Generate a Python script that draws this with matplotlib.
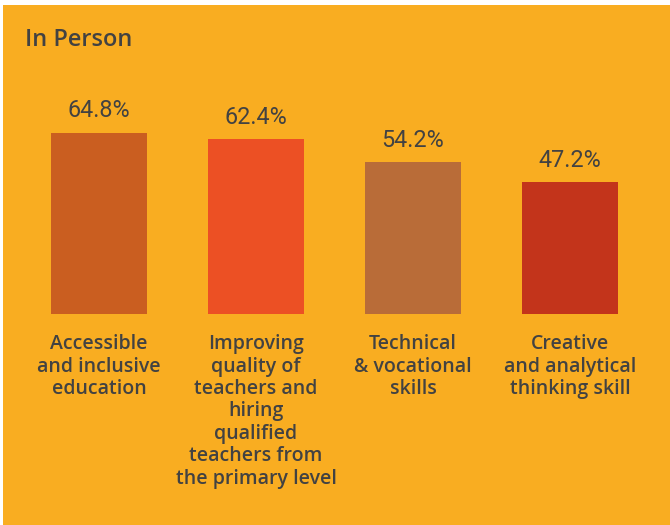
import matplotlib
matplotlib.use("Agg")
import matplotlib.pyplot as plt
from matplotlib.patches import Rectangle

title = "In Person"
categories = [
    "Accessible\nand inclusive\neducation",
    "Improving\nquality of\nteachers and\nhiring\nqualified\nteachers from\nthe primary level",
    "Technical\n& vocational\nskills",
    "Creative\nand analytical\nthinking skill",
]
values = [64.8, 62.4, 54.2, 47.2]
value_labels = ["64.8%", "62.4%", "54.2%", "47.2%"]
bar_colors = ["#CA5E20", "#EC5024", "#B96C38", "#C3341B"]

BG = "#F9AD21"
TXT = "#424242"
W, H = 670, 525

fig = plt.figure(figsize=(6.7, 5.25), dpi=100, facecolor="white")
fig.patches.append(Rectangle((3 / W, 0), 667 / W, 520 / H, transform=fig.transFigure,
                             facecolor=BG, edgecolor="none", zorder=-10))

ax = fig.add_axes([20.5 / W, 211 / H, 628 / W, 280 / H])
ax.set_facecolor("none")
ax.set_zorder(5)
x = list(range(len(values)))
ax.bar(x, values, width=96 / 157, color=bar_colors, zorder=2)
ax.set_xlim(-0.5, 3.5)
ax.set_ylim(0, 100)
ax.axis("off")

for i, (v, lab) in enumerate(zip(values, value_labels)):
    ax.annotate(lab, (i, v), xytext=(0, 11), textcoords="offset points",
                ha="center", va="baseline", fontsize=16.8, color=TXT,
                family=["Roboto", "DejaVu Sans"], weight="normal",
                annotation_clip=False)

for i, cat in enumerate(categories):
    ax.annotate(cat, (i, 0), xytext=(0, -14.5), textcoords="offset points",
                ha="center", va="top", fontsize=14, color=TXT,
                family=["Open Sans", "DejaVu Sans"], weight="semibold",
                linespacing=1.16, annotation_clip=False)

fig.text(25 / W, 1 - 28 / H, title, ha="left", va="top", fontsize=17,
         color=TXT, family=["Open Sans", "DejaVu Sans"], weight="semibold")

fig.savefig("out.png", dpi=100, facecolor="white")
